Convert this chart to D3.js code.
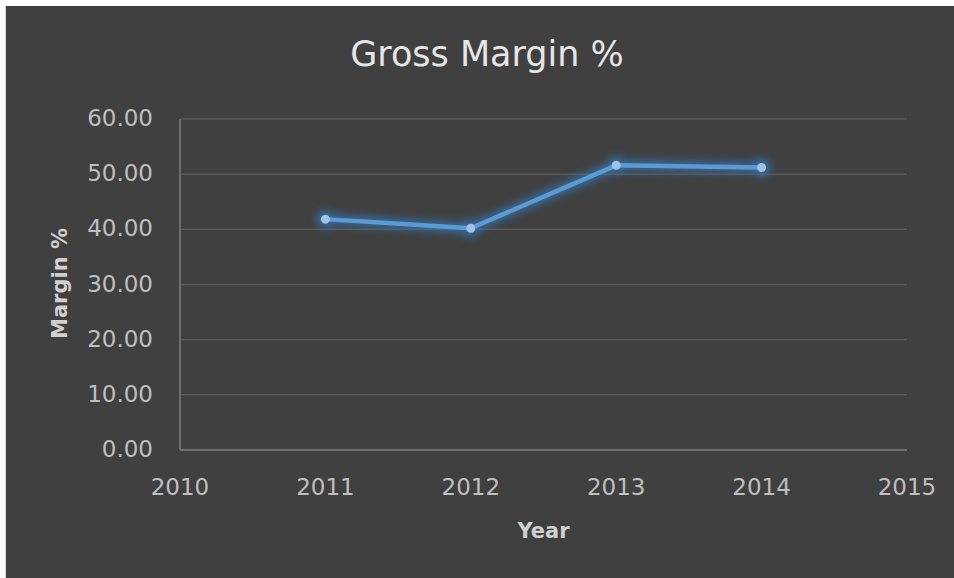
<!DOCTYPE html>
<html>
<head>
<meta charset="utf-8">
<script src="https://cdn.jsdelivr.net/npm/d3@7"></script>
<style>
  html, body { margin: 0; padding: 0; background: #ffffff; }
  svg { display: block; }
</style>
</head>
<body>
<svg id="chart" width="954" height="578"></svg>
<script>
// Gross margin by year
const years = [2011, 2012, 2013, 2014];
const marginPct = [41.85, 40.2, 51.6, 51.2];
const yTicks = [0, 10, 20, 30, 40, 50, 60];
const xTicks = [2010, 2011, 2012, 2013, 2014, 2015];

const W = 954, H = 578;
const plot = { left: 180, right: 907, top: 119, bottom: 450 };
const FONT = "'DejaVu Sans', 'Open Sans', sans-serif";

const svg = d3.select("#chart");

// soft glow around the series line
const defs = svg.append("defs");
const glow = defs.append("filter").attr("id", "glow")
  .attr("x", "-20%").attr("y", "-50%").attr("width", "140%").attr("height", "200%");
glow.append("feGaussianBlur").attr("in", "SourceGraphic").attr("stdDeviation", 4.5);

// card background with thin light frame on the left
svg.append("rect").attr("x", 5).attr("y", 6).attr("width", W - 5).attr("height", H - 6)
  .attr("fill", "#d9d9d9");
svg.append("rect").attr("x", 6).attr("y", 6).attr("width", W - 6).attr("height", H - 6)
  .attr("fill", "#404040");

const x = d3.scaleLinear().domain([2010, 2015]).range([plot.left, plot.right]);
const y = d3.scaleLinear().domain([0, 60]).range([plot.bottom, plot.top]);

// horizontal gridlines
svg.append("g").selectAll("line").data(yTicks.filter(d => d > 0)).join("line")
  .attr("x1", plot.left).attr("x2", plot.right)
  .attr("y1", d => y(d)).attr("y2", d => y(d))
  .attr("stroke", "#595959").attr("stroke-width", 1.5);

// axis lines
svg.append("line").attr("x1", plot.left).attr("x2", plot.left)
  .attr("y1", plot.top).attr("y2", plot.bottom)
  .attr("stroke", "#6e6e6e").attr("stroke-width", 2);
svg.append("line").attr("x1", plot.left).attr("x2", plot.right)
  .attr("y1", plot.bottom).attr("y2", plot.bottom)
  .attr("stroke", "#6e6e6e").attr("stroke-width", 2);

// y tick labels
svg.append("g").selectAll("text").data(yTicks).join("text")
  .attr("x", 153).attr("y", d => y(d) + 7)
  .attr("text-anchor", "end")
  .attr("font-family", FONT).attr("font-size", 23)
  .attr("fill", "#bfbfbf")
  .text(d => d3.format(".2f")(d));

// x tick labels
svg.append("g").selectAll("text").data(xTicks).join("text")
  .attr("x", d => x(d)).attr("y", 495)
  .attr("text-anchor", "middle")
  .attr("font-family", FONT).attr("font-size", 23)
  .attr("fill", "#bfbfbf")
  .text(d => d);

// title
svg.append("text")
  .attr("x", 487).attr("y", 66)
  .attr("text-anchor", "middle")
  .attr("font-family", FONT).attr("font-size", 35)
  .attr("fill", "#e6e6e6")
  .text("Gross Margin %");

// axis titles
svg.append("text")
  .attr("x", (plot.left + plot.right) / 2).attr("y", 538)
  .attr("text-anchor", "middle")
  .attr("font-family", FONT).attr("font-size", 21).attr("font-weight", "bold")
  .attr("fill", "#d0d0d0")
  .text("Year");

svg.append("text")
  .attr("transform", `translate(67, ${(plot.top + plot.bottom) / 2 - 1}) rotate(-90)`)
  .attr("text-anchor", "middle")
  .attr("font-family", FONT).attr("font-size", 21).attr("font-weight", "bold")
  .attr("fill", "#d0d0d0")
  .text("Margin %");

// series
const pts = years.map((yr, i) => [yr, marginPct[i]]);
const line = d3.line().x(d => x(d[0])).y(d => y(d[1]));

const glowG = svg.append("g").attr("filter", "url(#glow)").attr("opacity", 0.8);
glowG.append("path").attr("d", line(pts))
  .attr("fill", "none").attr("stroke", "#3577b8").attr("stroke-width", 10)
  .attr("stroke-linejoin", "round").attr("stroke-linecap", "round");
glowG.selectAll("circle").data(pts).join("circle")
  .attr("cx", d => x(d[0])).attr("cy", d => y(d[1])).attr("r", 9)
  .attr("fill", "#3577b8");

svg.append("path").attr("d", line(pts))
  .attr("fill", "none").attr("stroke", "#5b9bd5").attr("stroke-width", 4.5)
  .attr("stroke-linejoin", "round");

svg.append("g").selectAll("circle").data(pts).join("circle")
  .attr("cx", d => x(d[0])).attr("cy", d => y(d[1])).attr("r", 4.5)
  .attr("fill", "#9dc3e6");
</script>
</body>
</html>
